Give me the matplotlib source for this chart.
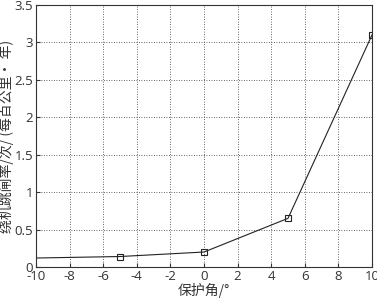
import numpy as np
import matplotlib.pyplot as plt

plt.rcParams['font.family'] = ['Open Sans', 'Noto Sans CJK SC', 'DejaVu Sans']
plt.rcParams['axes.unicode_minus'] = False

# protection angle (deg) and trip-out rate
angle = [-10, -5, 0, 5, 10]
rate = [0.12, 0.14, 0.20, 0.65, 3.10]
xticks = np.arange(-10, 11, 2)
yticks = np.arange(0, 3.6, 0.5)

fig = plt.figure(figsize=(3.77, 3.0), dpi=100)
ax = fig.add_axes([36/377, 33/300, 336/377, 262/300])

ax.plot(angle, rate, color="#222222", lw=0.8, marker="s", markersize=5,
        markerfacecolor="none", markeredgewidth=0.8, markevery=[1, 2, 3, 4])

ax.set_xlim(-10, 10)
ax.set_ylim(0, 3.5)
ax.set_xticks(xticks)
ax.set_yticks(yticks)
ax.set_yticklabels(["0", "0.5", "1", "1.5", "2", "2.5", "3", "3.5"])
ax.grid(True, color="#333333", linestyle=(0, (1, 2)), lw=0.6)
ax.tick_params(direction="in", labelsize=9.5, length=3, pad=2, colors="#333333")
ax.set_xlabel("保护角/°", fontsize=10, labelpad=0, color="#333333",
              family=['Noto Sans CJK SC', 'DejaVu Sans'])
ax.set_ylabel("绕机跳闸率/次/ (每百公里· 年)", fontsize=10, labelpad=0, color="#333333",
              family=['Noto Sans CJK SC', 'DejaVu Sans'])
for s in ax.spines.values():
    s.set_linewidth(0.8)
    s.set_color("#333333")

fig.savefig("out.png", dpi=100)
